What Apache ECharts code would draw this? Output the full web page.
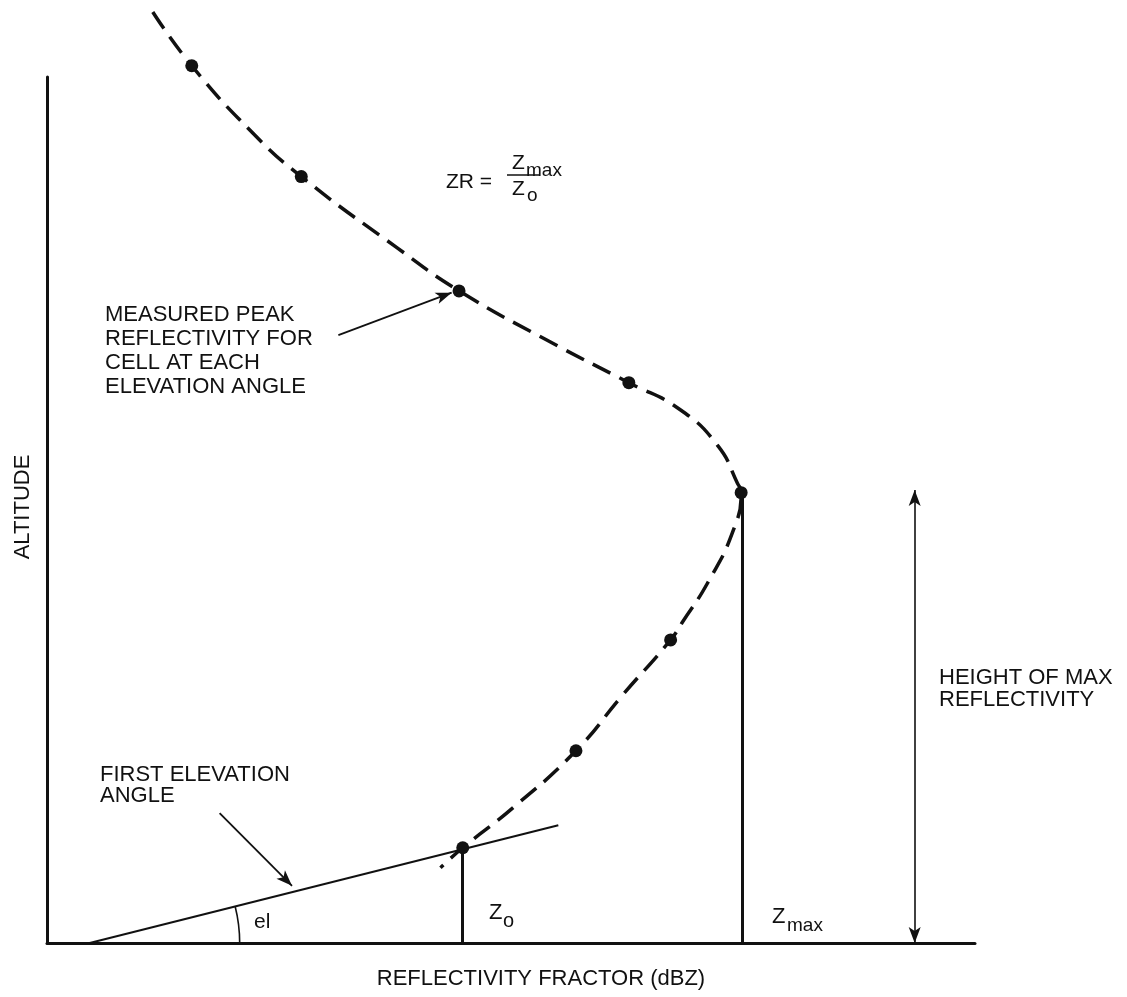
<!DOCTYPE html>
<html>
<head>
<meta charset="utf-8">
<script src="https://cdn.jsdelivr.net/npm/echarts@6/dist/echarts.min.js"></script>
<style>
  html, body { margin: 0; padding: 0; background: #fff; }
  #chart { width: 1127px; height: 997px; }
</style>
</head>
<body>
<div id="chart"></div>
<script>
// dashed reflectivity profile, read top to bottom
var profileX = [11.4, 15.6, 22.2, 27.4, 37.7, 44.4, 53.9, 62.7, 68.2, 72.3, 74.4, 74.8, 73.9, 71.2, 68.5, 67.2, 62.0, 57.0, 50.2, 44.8, 42.4];
var profileY = [107.5, 101.3, 93.5, 88.5, 80.3, 75.3, 69.6, 64.7, 61.6, 57.4, 53.1, 52.0, 47.5, 41.6, 37.1, 35.0, 28.6, 22.2, 15.6, 11.0, 8.7];
// measured peak at each elevation angle
var peakX = [15.6, 27.4, 44.4, 62.7, 74.8, 67.2, 57.0, 44.8];
var peakY = [101.3, 88.5, 75.3, 64.7, 52.0, 35.0, 22.2, 11.0];
// first elevation beam
var beamX = [4.6, 55.1];
var beamY = [0, 13.6];
// Zo / Zmax
var zoX = 44.8, zoY = 11.0;
var zmaxX = 74.9, zmaxY = 52.0;
var maxLevel = 52.3;
var maxLineX = [77.7, 107.0];
var heightArrowX = 93.5;
// leader arrows [from, to]
var peakArrow = [[31.4, 70.2], [43.6, 75.1]];
var beamArrow = [[18.6, 15.0], [26.4, 6.6]];

var font = "'Liberation Sans', Arial, sans-serif";
var ink = "#111";

function zip(xs, ys) {
  var out = [];
  for (var i = 0; i < xs.length; i++) out.push([xs[i], ys[i]]);
  return out;
}

function seg(a, b, w, s0, s1) {
  return [
    { coord: a, symbol: s0 || "none", lineStyle: { width: w } },
    { coord: b, symbol: s1 || "none" }
  ];
}

function txt(id, x, y, s, size, extra) {
  var o = {
    type: "text", id: id, x: x, y: y, silent: true,
    style: { text: s, fill: ink, font: size + "px " + font, textVerticalAlign: "middle" }
  };
  if (extra) for (var k in extra) o.style[k] = extra[k];
  return o;
}

var chart = echarts.init(document.getElementById("chart"));

var option = {
  animation: false,
  backgroundColor: "#fff",
  grid: { left: 47, right: 152, top: 77, bottom: 54, outerBoundsMode: "none" },
  xAxis: {
    type: "value", min: 0, max: 100,
    axisLine: { show: true, onZero: false, lineStyle: { color: ink, width: 3 } },
    axisTick: { show: false }, axisLabel: { show: false }, splitLine: { show: false },
    name: "REFLECTIVITY FRACTOR (dBZ)",
    nameLocation: "middle", nameGap: 25,
    nameTextStyle: { color: ink, fontSize: 22, fontFamily: font, padding: [0, 0, 0, 60] }
  },
  yAxis: {
    type: "value", min: 0, max: 100,
    axisLine: { show: true, onZero: false, lineStyle: { color: ink, width: 3 } },
    axisTick: { show: false }, axisLabel: { show: false }, splitLine: { show: false },
    name: "ALTITUDE",
    nameLocation: "middle", nameGap: 13, nameRotate: 90,
    nameTextStyle: { color: ink, fontSize: 22, fontFamily: font, padding: [0, 0, 0, 6] }
  },
  series: [
    {
      type: "line",
      data: zip(profileX, profileY),
      smooth: 0.5,
      showSymbol: false, symbol: "none",
      clip: false, silent: true,
      lineStyle: { color: ink, width: 3.5, type: [20, 10] },
      z: 3
    },
    {
      type: "line",
      data: zip(beamX, beamY),
      symbol: "none", silent: true, clip: false,
      lineStyle: { color: ink, width: 2 },
      z: 2
    },
    {
      type: "scatter",
      data: zip(peakX, peakY),
      symbolSize: 13, clip: false, silent: true,
      itemStyle: { color: ink, opacity: 1 },
      z: 5
    },
    {
      type: "line",
      data: [],
      clip: false, silent: true,
      markLine: {
        silent: true, animation: false,
        symbolSize: [9, 16],
        label: { show: false },
        lineStyle: { color: ink, type: "solid", width: 2 },
        data: [
          seg([zoX, 0], [zoX, zoY], 3),
          seg([zmaxX, 0], [zmaxX, zmaxY], 3),
          seg([maxLineX[0], maxLevel], [maxLineX[1], maxLevel], 2),
          seg([heightArrowX, 0], [heightArrowX, maxLevel], 1.6, "arrow", "arrow"),
          seg(peakArrow[0], peakArrow[1], 1.8, "none", "arrow"),
          seg(beamArrow[0], beamArrow[1], 1.8, "none", "arrow")
        ]
      }
    }
  ]
};

chart.setOption(option);

// annotations
var p0 = chart.convertToPixel({ gridIndex: 0 }, [beamX[0], beamY[0]]);
var p1 = chart.convertToPixel({ gridIndex: 0 }, [beamX[1], beamY[1]]);
var elAngle = Math.atan2(p1[1] - p0[1], p1[0] - p0[0]);

var graphics = [
  {
    type: "arc", id: "elArc", silent: true,
    shape: { cx: p0[0], cy: p0[1], r: 150, startAngle: elAngle, endAngle: 0 },
    style: { stroke: ink, lineWidth: 1.6, fill: null }
  },
  txt("el", 254, 922, "el", 21),
  txt("measured", 105, 351,
    "MEASURED PEAK\nREFLECTIVITY FOR\nCELL AT EACH\nELEVATION ANGLE", 22, { lineHeight: 24 }),
  txt("first", 100, 785, "FIRST ELEVATION\nANGLE", 22, { lineHeight: 21 }),
  txt("height", 939, 689, "HEIGHT OF MAX\nREFLECTIVITY", 22, { lineHeight: 22 }),
  txt("zoZ", 489, 913, "Z", 22),
  txt("zoSub", 503, 921, "o", 20),
  txt("zmZ", 772, 917, "Z", 22),
  txt("zmSub", 787, 926, "max", 19),
  txt("zr", 446, 182, "ZR =", 21),
  txt("numZ", 512, 163, "Z", 21),
  txt("numSub", 526, 171, "max", 19),
  txt("denZ", 512, 189, "Z", 21),
  txt("denSub", 527, 196, "o", 19),
  {
    type: "line", id: "fracBar", silent: true,
    shape: { x1: 507, y1: 175, x2: 540, y2: 175 },
    style: { stroke: ink, lineWidth: 1.5 }
  }
];

chart.setOption({ graphic: graphics });
</script>
</body>
</html>
